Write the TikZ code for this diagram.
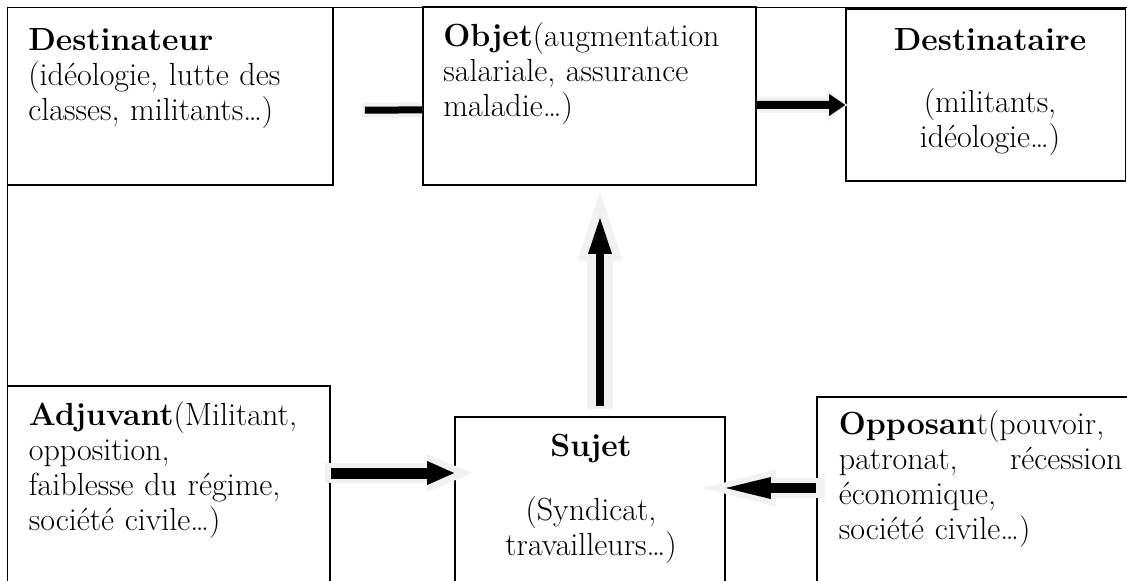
\documentclass[tikz,border=0pt]{standalone}
\usepackage{fontspec}
\usetikzlibrary{arrows.meta}
\definecolor{halogray}{HTML}{F2F2F2}
\tikzset{
  box/.style={draw, line width=0.8pt, inner sep=0pt},
  txt/.style={inner sep=0pt, text width=#1, align=left, anchor=base west},
  ctxt/.style={inner sep=0pt, text width=#1, align=center, anchor=base},
  fat/.style={draw=black, line width=4pt},
  glow/.style={draw=halogray, line width=10pt},
}
\begin{document}
\begin{tikzpicture}[x=0.5pt, y=0.5pt, font=\fontsize{16}{17.6}\selectfont]
    \useasboundingbox (0,0) rectangle (1127,-580);
    \clip (0,0) rectangle (1127,-580);
    % frame
    \draw [line width=0.8pt] (7.5,-600) -- (7.5,-7.5) -- (1140,-7.5);
    % boxes
    \node [box, minimum width=162.75pt, minimum height=88.75pt] (destinateur) at (170.25,-96.25) {};
    \node [box, minimum width=166.5pt, minimum height=89.25pt] (objet) at (589.5,-95.75) {};
    \node [box, minimum width=139.75pt, minimum height=86pt] (destinataire) at (985.75,-95) {};
    \node [box, minimum width=161.25pt, minimum height=107pt] (adjuvant) at (168.75,-493) {};
    \node [box, minimum width=135pt, minimum height=91.5pt] (sujet) at (590,-508.5) {};
    \node [box, minimum width=161.5pt, minimum height=101.5pt] (opposant) at (978.5,-498.5) {};
    % texts
    \node [txt=150pt] (destinateur-t) at (28,-50) {\textbf{Destinateur}\\(idéologie, lutte des\\classes, militants…)};
    \node [txt=160pt] (objet-t) at (443,-46) {\textbf{Objet}(augmentation\\salariale, assurance\\maladie…)};
    \node [ctxt=120pt] (destinataire-t) at (990,-50) {\textbf{Destinataire}\\[13.4pt](militants,\\idéologie…)};
    \node [txt=150pt] (adjuvant-t) at (28.5,-425) {\textbf{Adjuvant}(Militant,\\opposition,\\faiblesse du régime,\\société civile…)};
    \node [ctxt=120pt] (sujet-t) at (591,-456) {\textbf{Sujet}\\[14.4pt](Syndicat,\\travailleurs…)};
    \node [txt=141.75pt] (opposant-t) at (838.5,-434) {\textbf{Opposan}t(pouvoir,\\patronat,\hfill récession\\économique,\\société civile…)};
    % arrows
    \draw [fat, line width=3.5pt, preaction={glow, line width=7.5pt, shorten <=-1.5pt}]
        ([xshift=15.5pt,yshift=-6.9pt]destinateur.east) -- ([yshift=-7.1pt]objet.west);
    \draw [fat, -{Triangle[length=8pt,width=11pt,line width=0pt]},
        preaction={glow, line width=8pt, -{Triangle[length=10pt,width=16pt,line width=0pt]}, shorten >=-1pt}]
        ([yshift=-4.6pt]objet.east) -- ([yshift=-5pt]destinataire.west);
    \draw [fat, -{Triangle[length=18pt,width=12pt,line width=0pt]},
        preaction={glow, line width=13pt, -{Triangle[length=35pt,width=22.3pt,line width=0pt]}, shorten >=-13.5pt, shorten <=-1.5pt}]
        ([xshift=5pt,yshift=5pt]sujet.north) -- ([xshift=5.25pt,yshift=-16pt]objet.south);
    \draw [fat, line width=5.5pt, -{Triangle[length=13.5pt,width=12pt,line width=0pt]},
        preaction={glow, line width=10pt, -{Triangle[length=22.5pt,width=19pt,line width=0pt]}, shorten >=-9pt, shorten <=-3pt}]
        ([yshift=10pt]adjuvant.east) -- ([yshift=17.75pt]sujet.west);
    \draw [fat, line width=5pt, -{Triangle[length=22.5pt,width=11pt,line width=0pt]},
        preaction={glow, line width=10pt, -{Triangle[length=36.5pt,width=18.5pt,line width=0pt]}, shorten >=-11.5pt, shorten <=-4.5pt}]
        ([yshift=5.25pt]opposant.west) -- ([yshift=10.25pt]sujet.east);
\end{tikzpicture}
\end{document}
